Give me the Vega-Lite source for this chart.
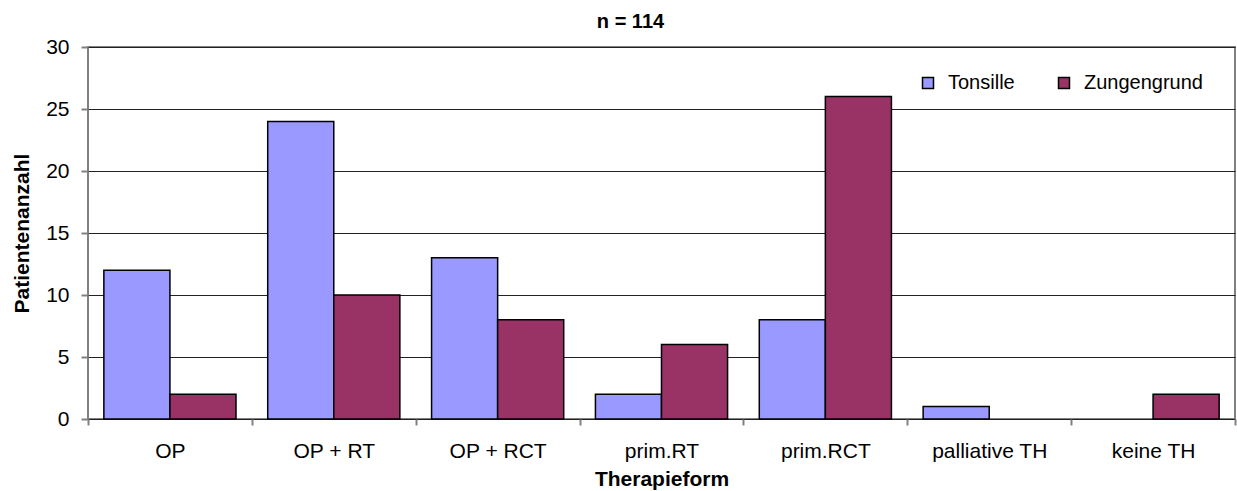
{
  "$schema": "https://vega.github.io/schema/vega-lite/v6.json",
  "autosize": "none",
  "padding": {"left": 88, "top": 47, "right": 2, "bottom": 72},
  "width": 1147,
  "height": 372,
  "background": "white",
  "title": {
    "text": "n = 114",
    "font": "Liberation Sans",
    "fontSize": 20,
    "fontWeight": "bold",
    "color": "#000000",
    "baseline": "alphabetic",
    "offset": -12,
    "dx": -31
  },
  "data": {
    "values": [
      {"form": "OP", "lokalisation": "Tonsille", "anzahl": 12},
      {"form": "OP", "lokalisation": "Zungengrund", "anzahl": 2},
      {"form": "OP + RT", "lokalisation": "Tonsille", "anzahl": 24},
      {"form": "OP + RT", "lokalisation": "Zungengrund", "anzahl": 10},
      {"form": "OP + RCT", "lokalisation": "Tonsille", "anzahl": 13},
      {"form": "OP + RCT", "lokalisation": "Zungengrund", "anzahl": 8},
      {"form": "prim.RT", "lokalisation": "Tonsille", "anzahl": 2},
      {"form": "prim.RT", "lokalisation": "Zungengrund", "anzahl": 6},
      {"form": "prim.RCT", "lokalisation": "Tonsille", "anzahl": 8},
      {"form": "prim.RCT", "lokalisation": "Zungengrund", "anzahl": 26},
      {"form": "palliative TH", "lokalisation": "Tonsille", "anzahl": 1},
      {"form": "palliative TH", "lokalisation": "Zungengrund", "anzahl": 0},
      {"form": "keine TH", "lokalisation": "Tonsille", "anzahl": 0},
      {"form": "keine TH", "lokalisation": "Zungengrund", "anzahl": 2}
    ]
  },
  "mark": {"type": "bar", "stroke": "#000000", "strokeWidth": 1.5},
  "encoding": {
    "x": {
      "field": "form",
      "type": "nominal",
      "sort": ["OP", "OP + RT", "OP + RCT", "prim.RT", "prim.RCT", "palliative TH", "keine TH"],
      "scale": {"paddingInner": 0, "paddingOuter": 0},
      "axis": {
        "title": "Therapieform",
        "titleFontSize": 21,
        "labelAngle": 0,
        "tickBand": "extent",
        "tickSize": 6,
        "tickColor": "#808080",
        "tickWidth": 2,
        "domain": false,
        "labelPadding": 15,
        "labelFontSize": 21,
        "titlePadding": 7
      }
    },
    "xOffset": {
      "field": "lokalisation",
      "type": "nominal",
      "scale": {"paddingInner": 0, "paddingOuter": 0.24}
    },
    "y": {
      "field": "anzahl",
      "type": "quantitative",
      "scale": {"domain": [0, 30]},
      "axis": {
        "title": "Patientenanzahl",
        "titleFontSize": 21,
        "values": [0, 5, 10, 15, 20, 25, 30],
        "grid": true,
        "gridColor": "#222222",
        "gridWidth": 1,
        "domain": false,
        "tickSize": 7,
        "tickColor": "#808080",
        "tickWidth": 2,
        "labelPadding": 12,
        "labelFontSize": 21,
        "titlePadding": 13
      }
    },
    "strokeOpacity": {
      "condition": {"test": "datum.anzahl == 0", "value": 0},
      "value": 1
    },
    "color": {
      "field": "lokalisation",
      "type": "nominal",
      "scale": {"domain": ["Tonsille", "Zungengrund"], "range": ["#9999FF", "#993366"]},
      "legend": {
        "title": null,
        "orient": "none",
        "legendX": 830,
        "legendY": 26,
        "direction": "horizontal",
        "columns": 2,
        "columnPadding": 39,
        "symbolType": "square",
        "symbolSize": 121,
        "symbolStrokeColor": "#000000",
        "symbolStrokeWidth": 1.5,
        "symbolOpacity": 1,
        "labelFontSize": 20,
        "labelOffset": 10,
        "padding": 0
      }
    }
  },
  "config": {
    "font": "Liberation Sans",
    "view": {"stroke": "#808080", "strokeWidth": 2},
    "axis": {
      "labelColor": "#000000",
      "titleColor": "#000000",
      "labelFont": "Liberation Sans",
      "titleFont": "Liberation Sans",
      "titleFontSize": 20,
      "titleFontWeight": "bold"
    },
    "legend": {"labelFont": "Liberation Sans", "labelColor": "#000000"}
  }
}
